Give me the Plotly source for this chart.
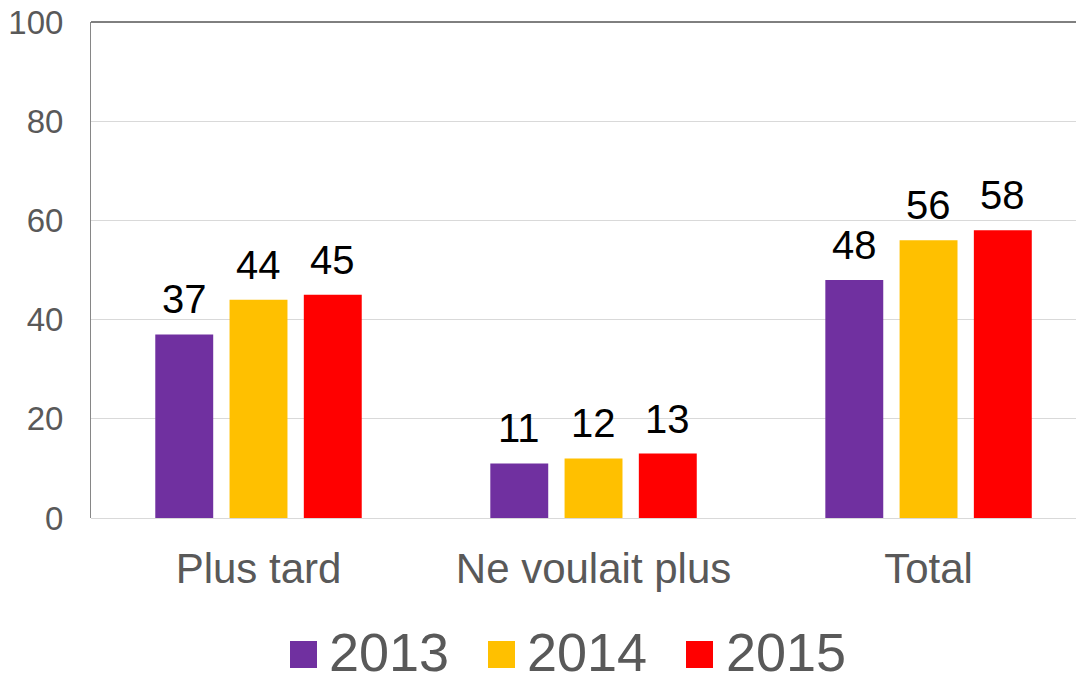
import plotly.graph_objects as go

categories = ["Plus tard", "Ne voulait plus", "Total"]
series_names = ["2013", "2014", "2015"]
values_2013 = [37, 11, 48]
values_2014 = [44, 12, 56]
values_2015 = [45, 13, 58]
series_values = [values_2013, values_2014, values_2015]
colors = ["#7030A0", "#FFC000", "#FF0000"]
y_ticks = [0, 20, 40, 60, 80, 100]

# page body has an 8px default margin; compensate so the figure fills the 1084x676 window
OFF = 8
W, H = 1084 - OFF, 676 - OFF
ML, MR, MT = 91 - OFF, 0, 22 - OFF
PH = 496
MB = H - MT - PH
PW = W - ML - MR
FONT = "Liberation Sans, Arial, sans-serif"
GRAY = "#595959"

BARGAP = 0.335
BARGROUPGAP = 0.22
slot = (1 - BARGAP) / len(series_names)

fig = go.Figure()
for name, vals, col in zip(series_names, series_values, colors):
    fig.add_trace(go.Bar(name=name, x=categories, y=vals, marker=dict(color=col, line=dict(width=0)),
                         showlegend=False, hoverinfo="x+y+name"))

annotations = []
for si, vals in enumerate(series_values):
    off = (si - (len(series_names) - 1) / 2) * slot
    for ci, v in enumerate(vals):
        annotations.append(dict(x=ci + off, y=v, xref="x", yref="y", text=str(v), showarrow=False,
                                yanchor="middle", xanchor="center", yshift=35,
                                font=dict(family=FONT, size=40, color="#000000")))

def px_x(px):
    return (px - OFF - ML) / PW

def px_y(py):
    return (H - MB - (py - OFF)) / PH

shapes = [dict(type="line", xref="paper", yref="paper", x0=0, x1=1, y0=1, y1=1,
               line=dict(color="#000000", width=1))]

legend_sq_x = [290, 488, 686]
legend_tx_x = [328, 526, 725]
for name, col, sx, tx in zip(series_names, colors, legend_sq_x, legend_tx_x):
    shapes.append(dict(type="rect", xref="paper", yref="paper", x0=px_x(sx), x1=px_x(sx + 27),
                       y0=px_y(668), y1=px_y(641), fillcolor=col, line=dict(width=0)))
    annotations.append(dict(x=px_x(tx), y=px_y(652), xref="paper", yref="paper", text=name,
                            showarrow=False, xanchor="left", yanchor="middle", borderpad=0,
                            font=dict(family=FONT, size=54, color=GRAY)))

fig.update_layout(
    width=W, height=H,
    margin=dict(l=ML, r=MR, t=MT, b=MB, autoexpand=False),
    paper_bgcolor="white", plot_bgcolor="white",
    barmode="group", bargap=BARGAP, bargroupgap=BARGROUPGAP,
    shapes=shapes, annotations=annotations,
    showlegend=False,
    font=dict(family=FONT, color=GRAY),
)
fig.update_xaxes(range=[-0.5, 2.464], showgrid=False, showline=False, automargin=False,
                 zeroline=False, ticks="", tickfont=dict(family=FONT, size=42, color=GRAY),
                 ticklabelstandoff=22, fixedrange=True)
fig.update_yaxes(range=[0, 100], tickvals=y_ticks, showgrid=True, gridcolor="#D9D9D9", gridwidth=1,
                 zeroline=True, zerolinecolor="#D9D9D9", zerolinewidth=1, automargin=False,
                 showline=True, linecolor="#868686", linewidth=1, ticks="",
                 tickfont=dict(family=FONT, size=33, color=GRAY), ticklabelstandoff=20,
                 ticklabeloverflow="allow", fixedrange=True)

fig.write_html("out.html")
